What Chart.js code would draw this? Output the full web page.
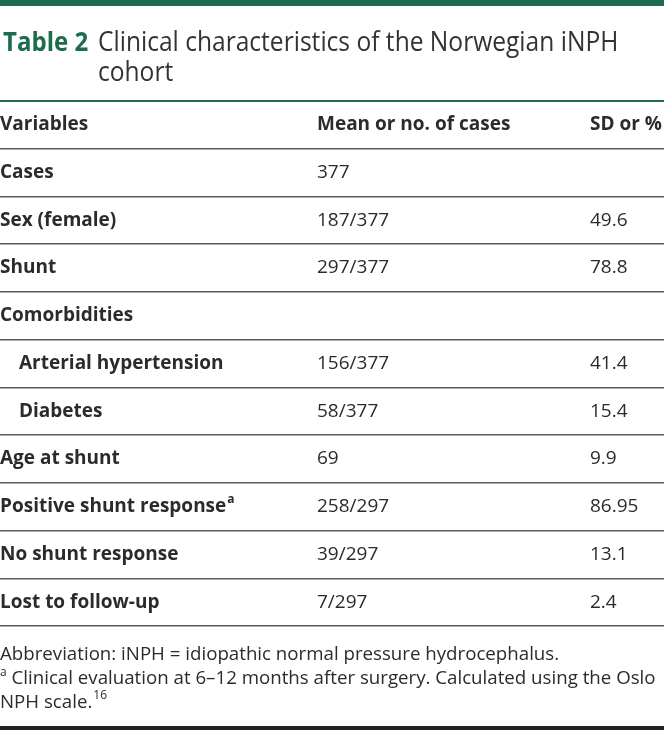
<!DOCTYPE html>
<html>
<head>
<meta charset="utf-8">
<script src="https://cdn.jsdelivr.net/npm/chart.js@4"></script>
<style>
  html, body { margin: 0; padding: 0; background: #fff; }
  #wrap { width: 664px; height: 731px; position: relative; }
</style>
</head>
<body>
<div id="wrap"><canvas id="tableChart"></canvas></div>
<script>
// Table content
const headers = ['Variables', 'Mean or no. of cases', 'SD or %'];
const variables = ['Cases', 'Sex (female)', 'Shunt', 'Comorbidities', 'Arterial hypertension',
  'Diabetes', 'Age at shunt', 'Positive shunt response', 'No shunt response', 'Lost to follow-up'];
const meanOrCount = ['377', '187/377', '297/377', '', '156/377', '58/377', '69', '258/297', '39/297', '7/297'];
const sdOrPercent = ['', '49.6', '78.8', '', '41.4', '15.4', '9.9', '86.95', '13.1', '2.4'];
const subItems = ['Arterial hypertension', 'Diabetes'];
const footMarks = { 'Positive shunt response': 'a' };

const titleLabel = 'Table 2';
const titleLines = ['Clinical characteristics of the Norwegian iNPH', 'cohort'];
const footnotes = [
  { mark: '', text: 'Abbreviation: iNPH = idiopathic normal pressure hydrocephalus.', ref: '' },
  { mark: 'a', text: ' Clinical evaluation at 6\u201312 months after surgery. Calculated using the Oslo', ref: '' },
  { mark: '', text: 'NPH scale.', ref: '16' }
];

// Colours and layout
const GREEN = '#1d6c4d';
const TEXT = '#2b2b2b';
const RULE = '#5a5a5a';
const FONT = '"Open Sans", "DejaVu Sans", sans-serif';
const colX = [0, 317, 590];

const rowLabels = [headers[0]].concat(variables);

function setFont(ctx, weight, size) {
  ctx.font = weight + ' ' + size + 'px ' + FONT;
}

// Draws title, cell text and footnotes on top of the grid
const tablePlugin = {
  id: 'tableText',
  afterDraw(chart) {
    const ctx = chart.ctx;
    const y = chart.scales.y;
    ctx.save();

    // top bar
    ctx.fillStyle = GREEN;
    ctx.fillRect(0, 0, chart.width, 6);

    // title (condensed look)
    ctx.textBaseline = 'alphabetic';
    ctx.textAlign = 'left';
    ctx.save();
    ctx.translate(3, 51);
    ctx.scale(0.89, 1);
    setFont(ctx, 'bold', 27);
    ctx.fillStyle = GREEN;
    ctx.fillText(titleLabel, 0, 0);
    ctx.restore();
    setFont(ctx, 'normal', 27);
    ctx.fillStyle = '#333';
    titleLines.forEach((line, i) => {
      ctx.save();
      ctx.translate(98, 51 + i * 30);
      ctx.scale(0.91, 1);
      ctx.fillText(line, 0, 0);
      ctx.restore();
    });

    // header row
    ctx.textBaseline = 'middle';
    ctx.fillStyle = TEXT;
    setFont(ctx, 'bold', 19);
    headers.forEach((h, c) => ctx.fillText(h, colX[c], y.getPixelForValue(0)));

    // body rows
    variables.forEach((name, i) => {
      const py = y.getPixelForValue(i + 1);
      const x0 = subItems.includes(name) ? 19 : 0;
      setFont(ctx, 'bold', 19);
      ctx.fillText(name, x0, py);
      if (footMarks[name]) {
        const w = ctx.measureText(name).width;
        setFont(ctx, 'bold', 12);
        ctx.fillText(footMarks[name], x0 + w + 1, py - 7);
      }
      setFont(ctx, 'normal', 19);
      ctx.fillText(meanOrCount[i], colX[1], py);
      ctx.fillText(sdOrPercent[i], colX[2], py);
    });

    // footnotes
    ctx.textBaseline = 'alphabetic';
    footnotes.forEach((f, i) => {
      const by = 660 + i * 24;
      let x = 0;
      if (f.mark) {
        setFont(ctx, 'normal', 12);
        ctx.fillText(f.mark, x, by - 8);
        x += ctx.measureText(f.mark).width;
      }
      setFont(ctx, 'normal', 18.7);
      ctx.fillText(f.text, x, by);
      x += ctx.measureText(f.text).width;
      if (f.ref) {
        setFont(ctx, 'normal', 12);
        ctx.fillText(f.ref, x + 1, by - 9);
      }
    });

    // bottom rule
    ctx.fillStyle = '#222';
    ctx.fillRect(0, 726, chart.width, 4);
    ctx.restore();
  }
};

new Chart(document.getElementById('tableChart'), {
  type: 'bar',
  data: {
    labels: rowLabels,
    datasets: [{ data: [] }]
  },
  options: {
    indexAxis: 'y',
    responsive: true,
    maintainAspectRatio: false,
    animation: false,
    events: [],
    layout: { padding: { top: 101, bottom: 105, left: 0, right: 0 } },
    plugins: { legend: { display: false }, tooltip: { enabled: false }, title: { display: false } },
    scales: {
      x: { display: false, min: 0, max: 1 },
      y: {
        type: 'category',
        offset: true,
        ticks: { display: false },
        border: { display: false },
        afterFit: s => { s.width = 0; },
        grid: {
          offset: true,
          drawTicks: false,
          tickLength: 0,
          color: c => c.index === 0 ? GREEN : RULE,
          lineWidth: c => c.index === 0 ? 2 : 1.5
        }
      }
    }
  },
  plugins: [tablePlugin]
});
</script>
</body>
</html>
